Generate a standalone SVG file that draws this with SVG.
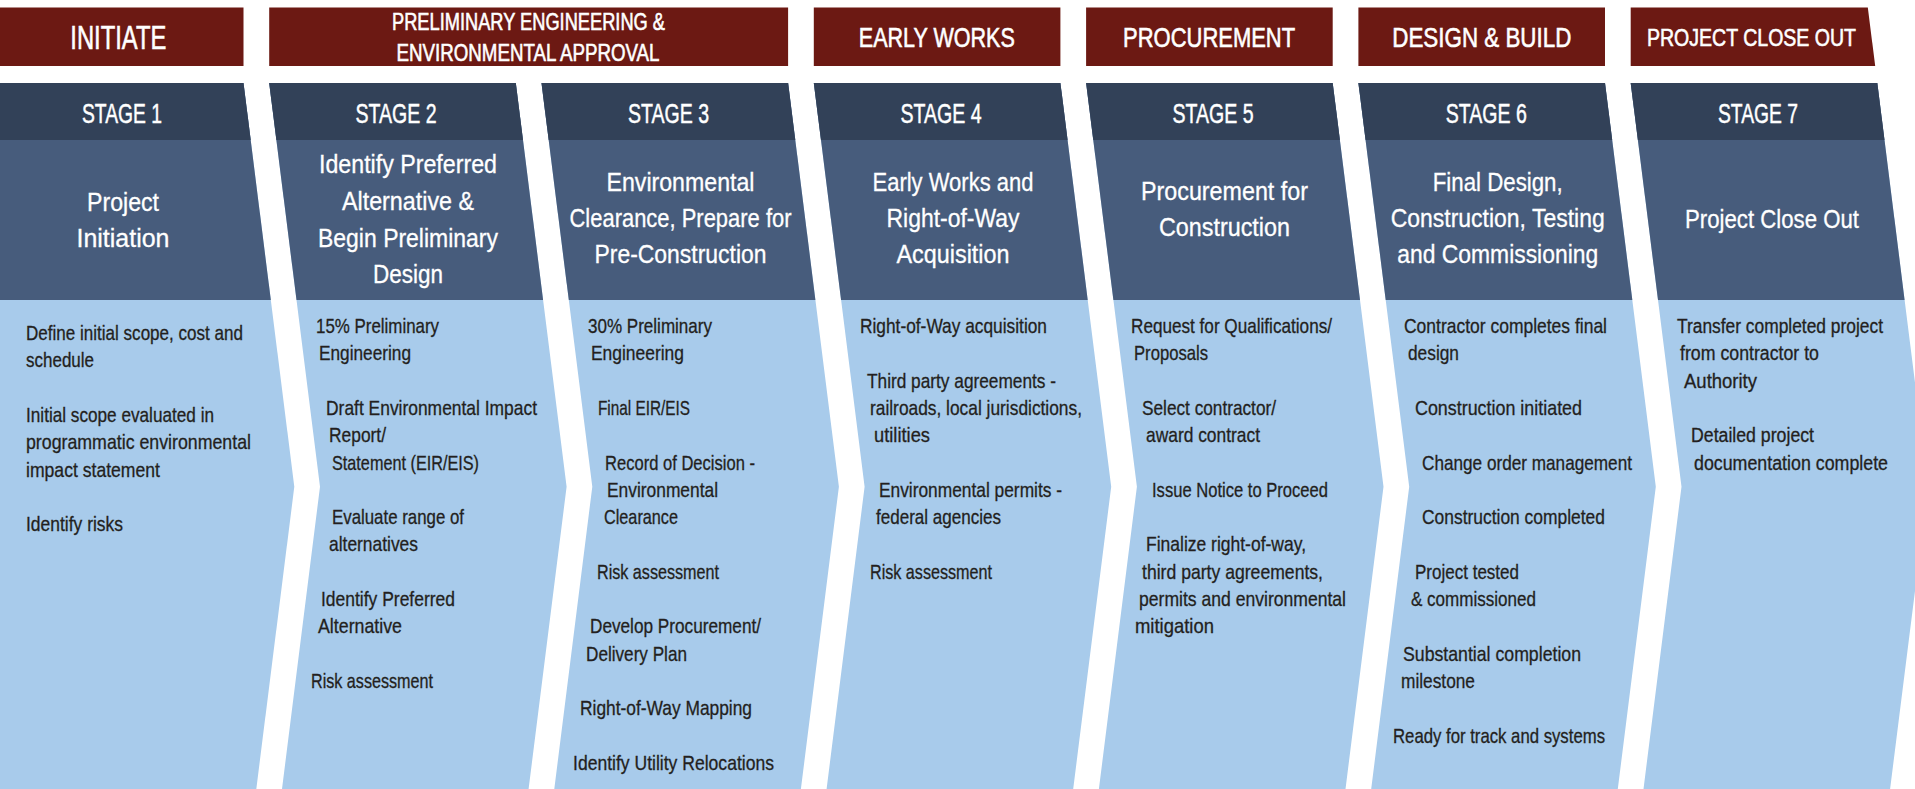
<svg xmlns="http://www.w3.org/2000/svg" width="1915" height="789" viewBox="0 0 1915 789">
<style>
.banner{fill:#6C1913}
.hdr{fill:#324158}
.mid{fill:#475C7C}
.light{fill:#A8CBEB}
text{font-family:"Liberation Sans Narrow","Liberation Sans",Arial,sans-serif}
.bt{fill:#FFFFFF;text-anchor:middle;stroke:#FFFFFF;stroke-width:0.6px}
.st{fill:#FFFFFF;font-size:28px;text-anchor:middle;stroke:#FFFFFF;stroke-width:0.5px}
.tt{fill:#FFFFFF;font-size:26px;text-anchor:middle;stroke:#FFFFFF;stroke-width:0.3px}
.bd{fill:#231F20;font-size:21px;stroke:#231F20;stroke-width:0.3px}
.bd7{font-size:19.5px}
</style>
<rect x="0" y="0" width="1915" height="789" fill="#FFFFFF"/>

<g id="banner-initiate">
<rect class="banner" x="-1" y="7.5" width="244.5" height="58.5"/>
<text class="bt" x="118.3" y="49" font-size="33" textLength="96" lengthAdjust="spacingAndGlyphs">INITIATE</text>
</g>
<g id="banner-preliminary">
<rect class="banner" x="269.2" y="7.5" width="518.9" height="58.5"/>
<text class="bt" x="528.5" y="30" font-size="24" textLength="273" lengthAdjust="spacingAndGlyphs">PRELIMINARY ENGINEERING &amp;</text>
<text class="bt" x="528" y="61" font-size="24" textLength="263" lengthAdjust="spacingAndGlyphs">ENVIRONMENTAL APPROVAL</text>
</g>
<g id="banner-early-works">
<rect class="banner" x="813.8" y="7.5" width="246.6" height="58.5"/>
<text class="bt" x="936.8" y="47" font-size="28" textLength="156" lengthAdjust="spacingAndGlyphs">EARLY WORKS</text>
</g>
<g id="banner-procurement">
<rect class="banner" x="1086.1" y="7.5" width="246.6" height="58.5"/>
<text class="bt" x="1209.1" y="47" font-size="28" textLength="172" lengthAdjust="spacingAndGlyphs">PROCUREMENT</text>
</g>
<g id="banner-design-build">
<rect class="banner" x="1358.4" y="7.5" width="246.6" height="58.5"/>
<text class="bt" x="1481.8" y="47" font-size="28" textLength="179" lengthAdjust="spacingAndGlyphs">DESIGN &amp; BUILD</text>
</g>
<g id="banner-close-out">
<polygon class="banner" points="1630.7,7.5 1867.8,7.5 1875.2,66 1630.7,66"/>
<text class="bt" x="1751.5" y="46" font-size="24" textLength="209" lengthAdjust="spacingAndGlyphs">PROJECT CLOSE OUT</text>
</g>

<g id="stage1">
<polygon class="light" points="-1,83 243.5,83 294.3,486.7 256.3,789 -1,789"/>
<polygon class="mid" points="-1,83 243.5,83 270.8,300 -1,300"/>
<polygon class="hdr" points="-1,83 243.5,83 250.7,140 -1,140"/>
<text class="st" x="122" y="123" textLength="80" lengthAdjust="spacingAndGlyphs">STAGE 1</text>
<text class="tt" x="123" y="211" textLength="72" lengthAdjust="spacingAndGlyphs">Project</text>
<text class="tt" x="123" y="247" textLength="93" lengthAdjust="spacingAndGlyphs">Initiation</text>
<text class="bd" x="26" y="340" textLength="217" lengthAdjust="spacingAndGlyphs">Define initial scope, cost and</text>
<text class="bd" x="26" y="367.3" textLength="68" lengthAdjust="spacingAndGlyphs">schedule</text>
<text class="bd" x="26" y="421.9" textLength="188" lengthAdjust="spacingAndGlyphs">Initial scope evaluated in</text>
<text class="bd" x="26" y="449.2" textLength="225" lengthAdjust="spacingAndGlyphs">programmatic environmental</text>
<text class="bd" x="26" y="476.5" textLength="134" lengthAdjust="spacingAndGlyphs">impact statement</text>
<text class="bd" x="26" y="531.1" textLength="97" lengthAdjust="spacingAndGlyphs">Identify risks</text>
</g>

<g id="stage2">
<polygon class="light" points="269.2,83 515.8,83 566.6,486.7 528.6,789 282,789 320,486.7"/>
<polygon class="mid" points="269.2,83 515.8,83 543.1,300 296.5,300"/>
<polygon class="hdr" points="269.2,83 515.8,83 523,140 276.4,140"/>
<text class="st" x="396" y="123" textLength="81" lengthAdjust="spacingAndGlyphs">STAGE 2</text>
<text class="tt" x="408" y="173" textLength="178" lengthAdjust="spacingAndGlyphs">Identify Preferred</text>
<text class="tt" x="408" y="210" textLength="132" lengthAdjust="spacingAndGlyphs">Alternative &amp;</text>
<text class="tt" x="408" y="247" textLength="180" lengthAdjust="spacingAndGlyphs">Begin Preliminary</text>
<text class="tt" x="408" y="283" textLength="70" lengthAdjust="spacingAndGlyphs">Design</text>
<text class="bd" x="316" y="333" textLength="123" lengthAdjust="spacingAndGlyphs">15% Preliminary</text>
<text class="bd" x="319" y="360.3" textLength="92" lengthAdjust="spacingAndGlyphs">Engineering</text>
<text class="bd" x="326" y="414.9" textLength="211" lengthAdjust="spacingAndGlyphs">Draft Environmental Impact</text>
<text class="bd" x="329" y="442.2" textLength="57" lengthAdjust="spacingAndGlyphs">Report/</text>
<text class="bd" x="332" y="469.5" textLength="147" lengthAdjust="spacingAndGlyphs">Statement (EIR/EIS)</text>
<text class="bd" x="332" y="524.1" textLength="132" lengthAdjust="spacingAndGlyphs">Evaluate range of</text>
<text class="bd" x="329" y="551.4" textLength="89" lengthAdjust="spacingAndGlyphs">alternatives</text>
<text class="bd" x="321" y="606" textLength="134" lengthAdjust="spacingAndGlyphs">Identify Preferred</text>
<text class="bd" x="318" y="633.3" textLength="84" lengthAdjust="spacingAndGlyphs">Alternative</text>
<text class="bd" x="311" y="687.9" textLength="122" lengthAdjust="spacingAndGlyphs">Risk assessment</text>
</g>

<g id="stage3">
<polygon class="light" points="541.5,83 788.1,83 838.9,486.7 800.9,789 554.3,789 592.3,486.7"/>
<polygon class="mid" points="541.5,83 788.1,83 815.4,300 568.8,300"/>
<polygon class="hdr" points="541.5,83 788.1,83 795.3,140 548.7,140"/>
<text class="st" x="668.5" y="123" textLength="81" lengthAdjust="spacingAndGlyphs">STAGE 3</text>
<text class="tt" x="680.5" y="191" textLength="148" lengthAdjust="spacingAndGlyphs">Environmental</text>
<text class="tt" x="680.5" y="227" textLength="222" lengthAdjust="spacingAndGlyphs">Clearance, Prepare for</text>
<text class="tt" x="680.5" y="263" textLength="172" lengthAdjust="spacingAndGlyphs">Pre-Construction</text>
<text class="bd" x="588" y="333" textLength="124" lengthAdjust="spacingAndGlyphs">30% Preliminary</text>
<text class="bd" x="591" y="360.3" textLength="93" lengthAdjust="spacingAndGlyphs">Engineering</text>
<text class="bd" x="598" y="414.9" textLength="92" lengthAdjust="spacingAndGlyphs">Final EIR/EIS</text>
<text class="bd" x="605" y="469.5" textLength="150" lengthAdjust="spacingAndGlyphs">Record of Decision -</text>
<text class="bd" x="607" y="496.8" textLength="111" lengthAdjust="spacingAndGlyphs">Environmental</text>
<text class="bd" x="604" y="524.1" textLength="74" lengthAdjust="spacingAndGlyphs">Clearance</text>
<text class="bd" x="597" y="578.7" textLength="122" lengthAdjust="spacingAndGlyphs">Risk assessment</text>
<text class="bd" x="590" y="633.3" textLength="171" lengthAdjust="spacingAndGlyphs">Develop Procurement/</text>
<text class="bd" x="586" y="660.6" textLength="101" lengthAdjust="spacingAndGlyphs">Delivery Plan</text>
<text class="bd" x="580" y="715.2" textLength="172" lengthAdjust="spacingAndGlyphs">Right-of-Way Mapping</text>
<text class="bd" x="573" y="769.8" textLength="201" lengthAdjust="spacingAndGlyphs">Identify Utility Relocations</text>
</g>

<g id="stage4">
<polygon class="light" points="813.8,83 1060.4,83 1111.2,486.7 1073.2,789 826.6,789 864.6,486.7"/>
<polygon class="mid" points="813.8,83 1060.4,83 1087.7,300 841.1,300"/>
<polygon class="hdr" points="813.8,83 1060.4,83 1067.6,140 821,140"/>
<text class="st" x="941" y="123" textLength="81" lengthAdjust="spacingAndGlyphs">STAGE 4</text>
<text class="tt" x="953" y="191" textLength="161" lengthAdjust="spacingAndGlyphs">Early Works and</text>
<text class="tt" x="953" y="227" textLength="133" lengthAdjust="spacingAndGlyphs">Right-of-Way</text>
<text class="tt" x="953" y="263" textLength="113" lengthAdjust="spacingAndGlyphs">Acquisition</text>
<text class="bd" x="860" y="333" textLength="187" lengthAdjust="spacingAndGlyphs">Right-of-Way acquisition</text>
<text class="bd" x="867" y="387.6" textLength="189" lengthAdjust="spacingAndGlyphs">Third party agreements -</text>
<text class="bd" x="870" y="414.9" textLength="212" lengthAdjust="spacingAndGlyphs">railroads, local jurisdictions,</text>
<text class="bd" x="874" y="442.2" textLength="56" lengthAdjust="spacingAndGlyphs">utilities</text>
<text class="bd" x="879" y="496.8" textLength="183" lengthAdjust="spacingAndGlyphs">Environmental permits -</text>
<text class="bd" x="876" y="524.1" textLength="125" lengthAdjust="spacingAndGlyphs">federal agencies</text>
<text class="bd" x="870" y="578.7" textLength="122" lengthAdjust="spacingAndGlyphs">Risk assessment</text>
</g>

<g id="stage5">
<polygon class="light" points="1086.1,83 1332.7,83 1383.5,486.7 1345.5,789 1098.9,789 1136.9,486.7"/>
<polygon class="mid" points="1086.1,83 1332.7,83 1360,300 1113.4,300"/>
<polygon class="hdr" points="1086.1,83 1332.7,83 1339.9,140 1093.3,140"/>
<text class="st" x="1213" y="123" textLength="81" lengthAdjust="spacingAndGlyphs">STAGE 5</text>
<text class="tt" x="1224.5" y="200" textLength="167" lengthAdjust="spacingAndGlyphs">Procurement for</text>
<text class="tt" x="1224.5" y="236" textLength="131" lengthAdjust="spacingAndGlyphs">Construction</text>
<text class="bd" x="1131" y="333" textLength="201" lengthAdjust="spacingAndGlyphs">Request for Qualifications/</text>
<text class="bd" x="1134" y="360.3" textLength="74" lengthAdjust="spacingAndGlyphs">Proposals</text>
<text class="bd" x="1142" y="414.9" textLength="134" lengthAdjust="spacingAndGlyphs">Select contractor/</text>
<text class="bd" x="1146" y="442.2" textLength="114" lengthAdjust="spacingAndGlyphs">award contract</text>
<text class="bd" x="1152" y="496.8" textLength="176" lengthAdjust="spacingAndGlyphs">Issue Notice to Proceed</text>
<text class="bd" x="1146" y="551.4" textLength="160" lengthAdjust="spacingAndGlyphs">Finalize right-of-way,</text>
<text class="bd" x="1142" y="578.7" textLength="181" lengthAdjust="spacingAndGlyphs">third party agreements,</text>
<text class="bd" x="1139" y="606" textLength="207" lengthAdjust="spacingAndGlyphs">permits and environmental</text>
<text class="bd" x="1135" y="633.3" textLength="79" lengthAdjust="spacingAndGlyphs">mitigation</text>
</g>

<g id="stage6">
<polygon class="light" points="1358.4,83 1605,83 1655.8,486.7 1617.8,789 1371.2,789 1409.2,486.7"/>
<polygon class="mid" points="1358.4,83 1605,83 1632.3,300 1385.7,300"/>
<polygon class="hdr" points="1358.4,83 1605,83 1612.2,140 1365.6,140"/>
<text class="st" x="1486.3" y="123" textLength="81" lengthAdjust="spacingAndGlyphs">STAGE 6</text>
<text class="tt" x="1497.7" y="191" textLength="130" lengthAdjust="spacingAndGlyphs">Final Design,</text>
<text class="tt" x="1497.7" y="227" textLength="214" lengthAdjust="spacingAndGlyphs">Construction, Testing</text>
<text class="tt" x="1497.7" y="263" textLength="201" lengthAdjust="spacingAndGlyphs">and Commissioning</text>
<text class="bd" x="1404" y="333" textLength="203" lengthAdjust="spacingAndGlyphs">Contractor completes final</text>
<text class="bd" x="1408" y="360.3" textLength="51" lengthAdjust="spacingAndGlyphs">design</text>
<text class="bd" x="1415" y="414.9" textLength="167" lengthAdjust="spacingAndGlyphs">Construction initiated</text>
<text class="bd" x="1422" y="469.5" textLength="210" lengthAdjust="spacingAndGlyphs">Change order management</text>
<text class="bd" x="1422" y="524.1" textLength="183" lengthAdjust="spacingAndGlyphs">Construction completed</text>
<text class="bd" x="1415" y="578.7" textLength="104" lengthAdjust="spacingAndGlyphs">Project tested</text>
<text class="bd" x="1411" y="606" textLength="125" lengthAdjust="spacingAndGlyphs">&amp; commissioned</text>
<text class="bd" x="1403" y="660.6" textLength="178" lengthAdjust="spacingAndGlyphs">Substantial completion</text>
<text class="bd" x="1401" y="687.9" textLength="74" lengthAdjust="spacingAndGlyphs">milestone</text>
<text class="bd" x="1393" y="742.5" textLength="212" lengthAdjust="spacingAndGlyphs">Ready for track and systems</text>
</g>

<g id="stage7">
<polygon class="light" points="1630.7,83 1877.3,83 1928.1,486.7 1890.1,789 1643.5,789 1681.5,486.7"/>
<polygon class="mid" points="1630.7,83 1877.3,83 1904.6,300 1658,300"/>
<polygon class="hdr" points="1630.7,83 1877.3,83 1884.5,140 1637.9,140"/>
<text class="st" x="1758" y="123" textLength="80" lengthAdjust="spacingAndGlyphs">STAGE 7</text>
<text class="tt" x="1772" y="228" textLength="174" lengthAdjust="spacingAndGlyphs">Project Close Out</text>
<text class="bd bd7" x="1677" y="333" textLength="206" lengthAdjust="spacingAndGlyphs">Transfer completed project</text>
<text class="bd bd7" x="1680" y="360.3" textLength="139" lengthAdjust="spacingAndGlyphs">from contractor to</text>
<text class="bd bd7" x="1684" y="387.6" textLength="73" lengthAdjust="spacingAndGlyphs">Authority</text>
<text class="bd bd7" x="1691" y="442.2" textLength="123" lengthAdjust="spacingAndGlyphs">Detailed project</text>
<text class="bd bd7" x="1694" y="469.5" textLength="194" lengthAdjust="spacingAndGlyphs">documentation complete</text>
</g>

<g id="connectors"/>
</svg>
